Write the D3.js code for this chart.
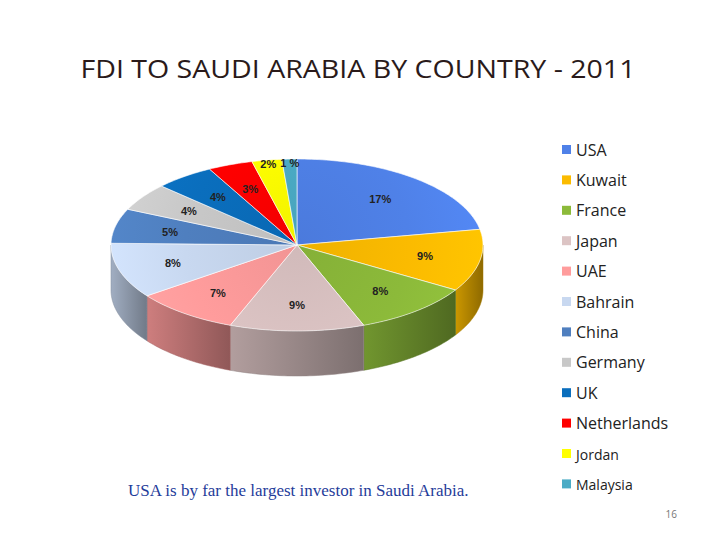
<!DOCTYPE html>
<html><head><meta charset="utf-8">
<script src="https://cdn.jsdelivr.net/npm/d3@7"></script>
<style>body{margin:0;background:#fff}</style>
</head><body>
<script>
const countries = ["USA","Kuwait","France","Japan","UAE","Bahrain","China","Germany","UK","Netherlands","Jordan","Malaysia"];
const shares = [17,9,8,9,7,8,5,4,4,3,2,1];
const labels = ["17%","9%","8%","9%","7%","8%","5%","4%","4%","3%","2%","1 %"];
const colors = ["#4f81e8","#fbbb00","#8cba3a","#dcc4c4","#ff9c9c","#c8d8f0","#4f7fbf","#c8c8c8","#0a6ebd","#ff0000","#ffff00","#4bacc6"];

const W=720,H=540;
const svg=d3.select("body").append("svg").attr("width",W).attr("height",H);
svg.append("text").attr("x",358).attr("y",78).attr("text-anchor","middle")
  .attr("font-family","Open Sans, sans-serif").attr("font-size",26).attr("fill","#2a1a1a")
  .attr("textLength",555).attr("lengthAdjust","spacingAndGlyphs")
  .text("FDI TO SAUDI ARABIA BY COUNTRY - 2011");

const cx=297, cy=245, rx=186, ry=86, depth=45;
const color=d3.scaleOrdinal().domain(countries).range(colors);
const pie=d3.pie().sort(null).value(d=>d.v);
const arcs=pie(countries.map((c,i)=>({c,v:shares[i],l:labels[i]})));
const P=(a,f=1)=>[cx+rx*f*Math.sin(a), cy-ry*f*Math.cos(a)];
function arcPts(a0,a1,f=1){const n=Math.max(2,Math.ceil((a1-a0)/0.02));return d3.range(n+1).map(i=>P(a0+(a1-a0)*i/n,f));}

const defs=svg.append("defs");
arcs.forEach((d,i)=>{
  const g=defs.append("linearGradient").attr("id","s"+i).attr("x1",0).attr("x2",1).attr("y1",0).attr("y2",0);
  const c=d3.color(color(d.data.c));
  g.append("stop").attr("offset","0%").attr("stop-color",c.darker(0.6));
  g.append("stop").attr("offset","100%").attr("stop-color",c.darker(1.6));
  const r=defs.append("radialGradient").attr("id","t"+i).attr("gradientUnits","userSpaceOnUse")
    .attr("cx",cx).attr("cy",cy).attr("r",rx);
  r.append("stop").attr("offset","0%").attr("stop-color",c.darker(0.15));
  r.append("stop").attr("offset","60%").attr("stop-color",c);
  r.append("stop").attr("offset","100%").attr("stop-color",c.brighter(0.15));
});

const sides=svg.append("g");
arcs.forEach((d,i)=>{
  const a0=Math.max(d.startAngle,Math.PI/2), a1=Math.min(d.endAngle,3*Math.PI/2);
  if(a1<=a0) return;
  const top=arcPts(a0,a1);
  const bot=top.map(p=>[p[0],p[1]+depth]).reverse();
  sides.append("path").attr("d",d3.line()(top.concat(bot))+"Z")
    .attr("fill","url(#s"+i+")").attr("stroke",d3.color(color(d.data.c)).darker(1.2)).attr("stroke-width",0.5);
});
const tops=svg.append("g");
arcs.forEach((d,i)=>{
  const pts=[[cx,cy]].concat(arcPts(d.startAngle,d.endAngle));
  tops.append("path").attr("d",d3.line()(pts)+"Z").attr("fill","url(#t"+i+")")
    .attr("stroke","#fff").attr("stroke-width",0.6);
});
arcs.forEach((d,i)=>{
  const m=(d.startAngle+d.endAngle)/2;
  const f=(d.endAngle-d.startAngle)<0.2?0.95:0.7;
  const p=P(m,f);
  svg.append("text").attr("x",p[0]).attr("y",p[1]+4).attr("text-anchor","middle")
    .attr("font-family","Liberation Sans, Arial, sans-serif").attr("font-weight","bold").attr("font-size",11)
    .attr("fill","#222").text(d.data.l);
});

const lg=svg.append("g");
countries.forEach((c,i)=>{
  const y=150+i*30.4;
  lg.append("rect").attr("x",562).attr("y",y-5).attr("width",9).attr("height",9).attr("fill",color(c));
  lg.append("text").attr("x",576).attr("y",y+5.5).attr("font-family","Open Sans, sans-serif")
    .attr("font-size",i>=10?14:16).attr("fill","#222").text(c);
});

svg.append("text").attr("x",128).attr("y",496).attr("font-family","Liberation Serif, serif")
  .attr("font-size",17).attr("fill","#1f3c9a").text("USA is by far the largest investor in Saudi Arabia.");
svg.append("text").attr("x",677).attr("y",518).attr("text-anchor","end").attr("font-family","Open Sans, sans-serif")
  .attr("font-size",10).attr("fill","#777").text("16");
</script>
</body></html>
